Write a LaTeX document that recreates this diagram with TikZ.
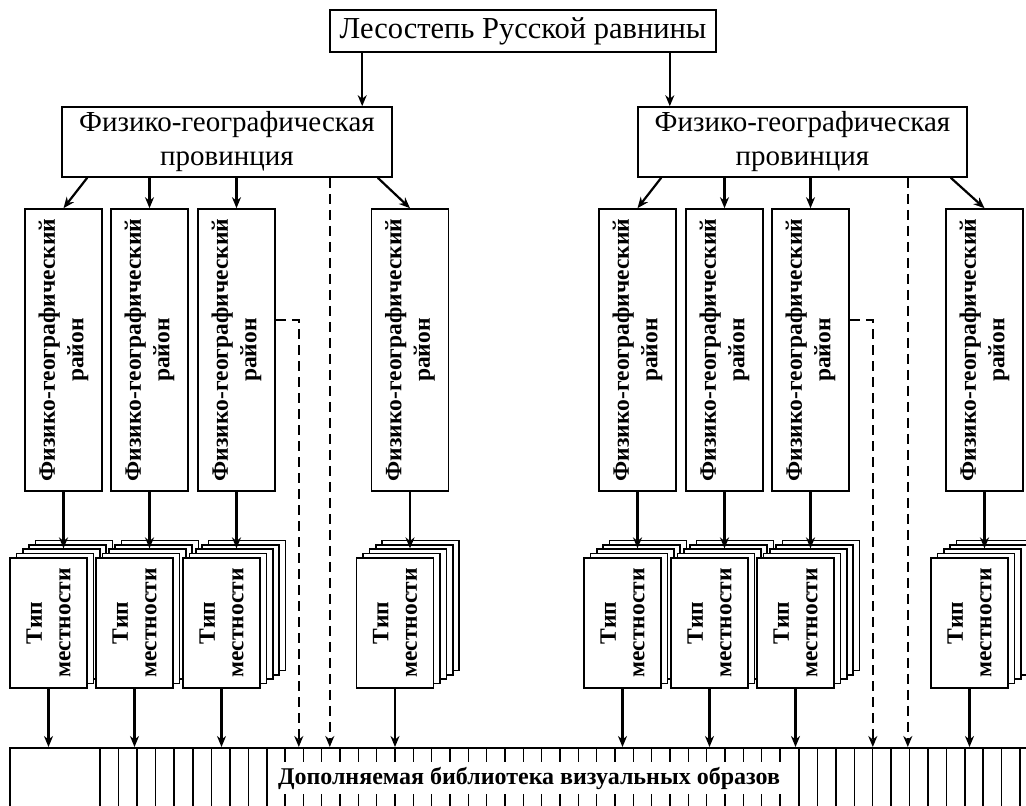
\documentclass[tikz,border=0pt]{standalone}
\usepackage{fontspec}
\setmainfont{Liberation Serif}
\usetikzlibrary{calc,positioning,arrows.meta}

\begin{document}
\begin{tikzpicture}[x=1pt,y=-1pt]

\tikzset{topnode/.style={draw,line width=1.6pt,minimum width=386pt,minimum height=42pt,inner sep=0pt,font=\fontsize{30.5}{34}\selectfont},
provnode/.style={draw,line width=1.6pt,minimum width=330pt,minimum height=70pt,inner sep=0pt,align=center,font=\fontsize{29}{34}\selectfont},
distnode/.style={draw,line width=1.6pt,fill=white,rotate=90,minimum width=282pt,minimum height=77pt,inner sep=0pt,align=center,font=\fontsize{23.5}{28.5}\selectfont\bfseries},
layernode/.style={draw,line width=1.6pt,fill=white,minimum width=77pt,minimum height=130pt,inner sep=0pt},
typenode/.style={layernode,rotate=90,minimum width=130pt,minimum height=77pt,align=center,font=\fontsize{23.5}{28.5}\selectfont\bfseries},
libline/.style={line width=1.5pt},
arr/.style={line width=2.2pt,-{Stealth[length=11pt,width=9pt,inset=3.5pt]}},
dasharr/.style={arr,dash pattern=on 10pt off 6pt}}

\path[use as bounding box,clip] (0,0) rectangle (1026,806);

% Top levels
\node[topnode] (top) at (523,31) {Лесостепь Русской равнины};
\node[provnode] (pL) at (227,142) {Физико-географическая\\провинция};
\node[provnode,minimum width=329pt] (pR) at (802.5,142) {Физико-географическая\\провинция};

\coordinate (tl) at ([xshift=33pt]top.south west);
\coordinate (tr) at ([xshift=-47pt]top.south east);
\draw[arr] (tl) -- (tl |- pL.north);
\draw[arr] (tr) -- (tr |- pR.north);

% Districts and stacks of terrain types
\foreach \i/\xc in {1/63.5,2/149.5,3/236.5,4/410,5/637.5,6/724.5,7/810.5,8/984.5} {
  \node[distnode] (d\i) at (\xc,350) {Физико-географический\\район};
  \foreach \k in {4,3,2,1}
    \node[layernode] (t\i-\k) at ($(\xc-15,623)+(6.4*\k,-4.4*\k)$) {};
  \node[typenode] (t\i) at (\xc-15,623) {Тип\\местности};
  \draw[arr] (d\i.west) -- (d\i.west |- t\i-2.north);
}

% Library
\node[draw,line width=1.8pt,minimum width=1100pt,minimum height=100pt,anchor=north west] (lib) at (9,747) {};
\foreach \k in {0,...,9} \draw[libline] (100+18.55*\k,747) -- +(0,70);
\foreach \k in {0,...,27} \draw[libline] (285+18.33*\k,747) -- +(0,70);
\foreach \k in {0,...,13} \draw[libline] (799+18.42*\k,747) -- +(0,70);
\node[fill=white,minimum width=516pt,minimum height=32pt,inner sep=0pt,font=\fontsize{24}{28}\selectfont\bfseries] (libtext) at (529,778) {Дополняемая библиотека визуальных образов};

% Province to district edges
\draw[arr] ([xshift=26pt]pL.south west) -- (d1.east);
\draw[arr] ([xshift=-15pt]pL.south east) -- (d4.east);
\draw[arr] ([xshift=24pt]pR.south west) -- (d5.east);
\draw[arr] ([xshift=-17pt]pR.south east) -- (d8.east);
\foreach \x/\p in {2/pL,3/pL,6/pR,7/pR} \draw[arr] (d\x.east |- \p.south) -- (d\x.east);

% Terrain types to library
\foreach \x in {1,...,8} \draw[arr] (t\x.west) -- (t\x.west |- lib.north);

% Dashed edges
\draw[dasharr] ([xshift=-63pt]pL.south east) -- ([xshift=-63pt]pL.south east |- lib.north);
\draw[dasharr] ([xshift=-60pt]pR.south east) -- ([xshift=-60pt]pR.south east |- lib.north);
\foreach \x in {3,7} \draw[dasharr] ($(d\x.south)+(0,-30)$) -| ([xshift=23pt]d\x.south |- lib.north);

\end{tikzpicture}
\end{document}
